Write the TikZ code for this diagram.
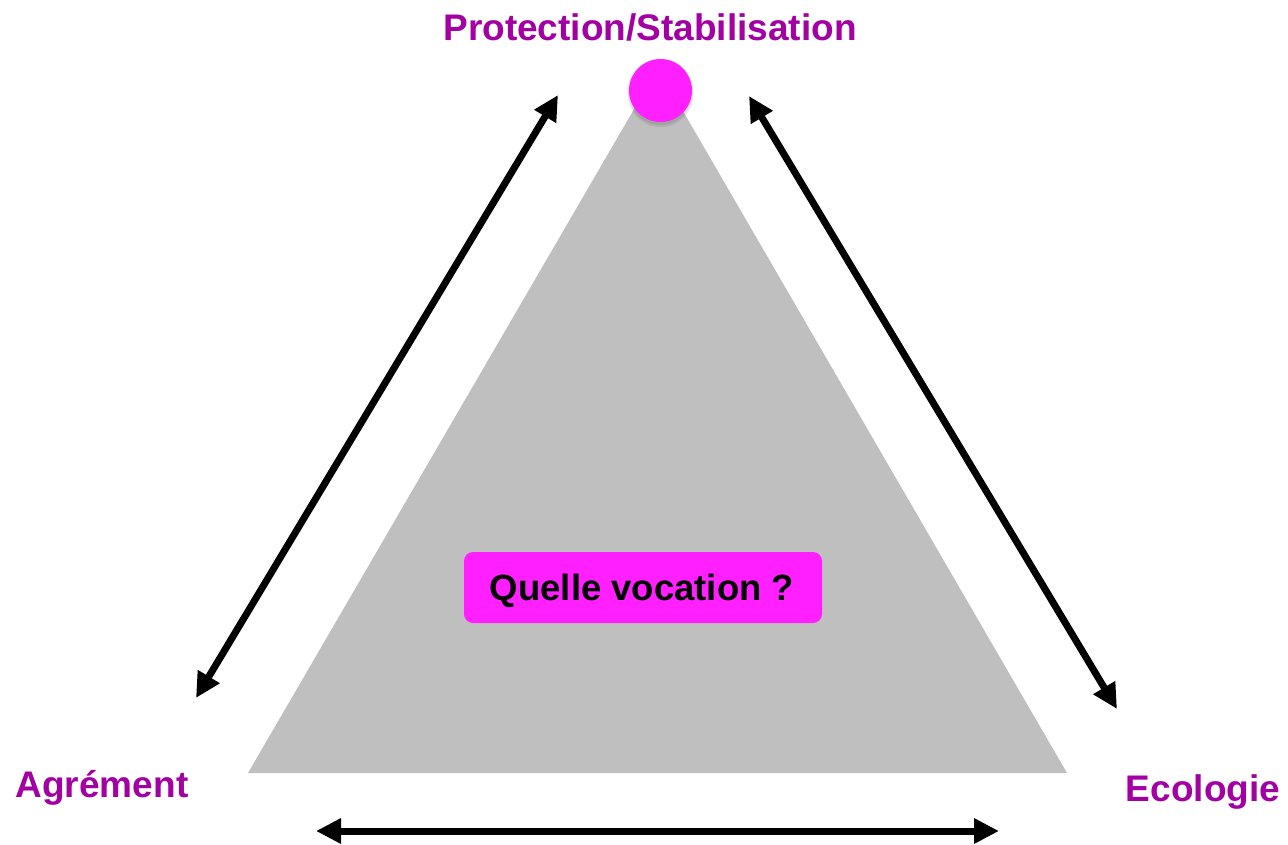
\documentclass[tikz,border=0pt]{standalone}
\usepackage{fontspec}
\setmainfont{Liberation Sans}
\usetikzlibrary{arrows.meta}
\definecolor{labpurple}{HTML}{A300A3}
\definecolor{magent}{HTML}{FF1FFF}
\definecolor{trigray}{HTML}{BFBFBF}
\tikzset{
  x=1pt, y=-1pt,
  biarrow/.style={line width=7pt, {Triangle[length=25pt,width=24pt]}-{Triangle[length=25pt,width=24pt]}},
  cornerlabel/.style={text=labpurple, font=\bfseries\fontsize{37}{40}\selectfont, inner sep=0pt},
  vocbox/.style={fill=magent, rounded corners=9pt, minimum width=358pt, minimum height=71pt, font=\bfseries\fontsize{36.5}{40}\selectfont, text=black}
}
\begin{document}
\begin{tikzpicture}
\useasboundingbox (0,0) rectangle (1288,845);
% triangle
\coordinate (apex) at (658,68);
\coordinate (bl) at (248,773);
\coordinate (br) at (1067,773);
\fill[trigray] (apex) -- (br) -- (bl) -- cycle;
% circle with soft shadow
\fill[black, opacity=0.08] (660.5,94) circle (33pt);
\fill[black, opacity=0.08] (660.5,93) circle (32pt);
\node[circle, fill=magent, minimum size=63pt, inner sep=0pt] (top) at (660.5,90.5) {};
% box
\node[vocbox] (voc) at (643,587.5) {};
\node[font=\bfseries\fontsize{36.5}{40}\selectfont, text=black, inner sep=0pt] (voctext) at (642,591) {Quelle vocation ?};
% labels
\node[cornerlabel] (lt) at (650,27) {Protection/Stabilisation};
\node[cornerlabel] (ll) at (102,788) {Agrément};
\node[cornerlabel] (lr) at (1203,792) {Ecologie};
% arrow endpoints
\coordinate (a1) at (196,698);
\coordinate (a2) at (558,95);
\coordinate (b1) at (749,96);
\coordinate (b2) at (1117,709);
\coordinate (c1) at (316,831);
\coordinate (c2) at (999,831);
\draw[biarrow] (a1) -- (a2);
\draw[biarrow] (b1) -- (b2);
\draw[biarrow] (c1) -- (c2);
\end{tikzpicture}
\end{document}
